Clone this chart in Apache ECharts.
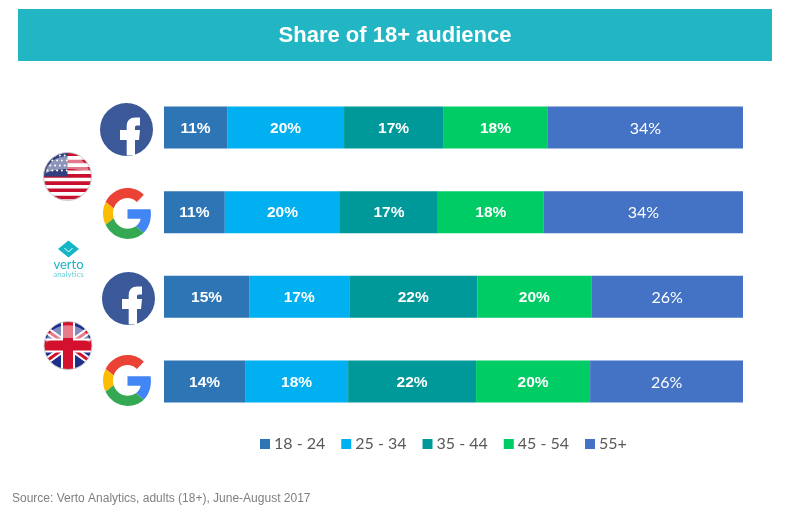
<!DOCTYPE html>
<html>
<head>
<meta charset="utf-8">
<style>html, body { margin: 0; background: #fff; } #main { width: 790px; height: 516px; }</style>
<script src="https://cdn.jsdelivr.net/npm/echarts@6/dist/echarts.min.js"></script>
</head>
<body>
<div id="main"></div>
<script>
var rows = ['US Facebook', 'US Google', 'UK Facebook', 'UK Google'];
var ages = ['18 - 24', '25 - 34', '35 - 44', '45 - 54', '55+'];
var age18 = [10.9, 10.5, 14.7, 14.0];
var age25 = [20.2, 19.9, 17.3, 17.8];
var age35 = [17.1, 16.9, 22.1, 22.1];
var age45 = [18.1, 18.3, 19.7, 19.7];
var age55 = [33.7, 34.4, 26.2, 26.4];
var ageValues = [age18, age25, age35, age45, age55];
var colors = ['#2e75b6', '#00b0f0', '#009999', '#00cc66', '#4472c4'];

// the graphic component has no 'path' type, so logo pieces are registered as shapes
function addShape(name, pathData) {
  echarts.graphic.registerShape(name, echarts.graphic.extendPath(pathData, {}));
}

addShape('fbF', 'M0.2 26L0.2 10.5L-6.5 10.5L-6.5 0.5L0.2 0.5L0.2 -3C0.2 -9 3.5 -12 9 -12L13.5 -12L13.5 -4L10.5 -4' +
  'C9 -4 8.5 -3.2 8.5 -2L8.5 0.5L13.5 0.5L12.5 10.5L8.5 10.5L8.5 25.5Z');
addShape('gRed', 'M24 9.5c3.54 0 6.71 1.22 9.21 3.6l6.85-6.85C35.9 2.38 30.47 0 24 0 14.62 0 6.51 5.38 2.56 13.22l7.98 6.19C12.43 13.72 17.74 9.5 24 9.5z');
addShape('gBlue', 'M46.98 24.55c0-1.57-.15-3.09-.38-4.55H24v9.02h12.94c-.58 2.96-2.26 5.48-4.78 7.18l7.73 6c4.51-4.18 7.09-10.36 7.09-17.65z');
addShape('gYellow', 'M10.53 28.59c-.5-1.45-.78-2.99-.78-4.59s.27-3.14.78-4.59l-7.98-6.19C.92 16.46 0 20.12 0 24c0 3.88.92 7.54 2.56 10.78l7.97-6.19z');
addShape('gGreen', 'M24 48c6.48 0 11.93-2.13 15.89-5.81l-7.73-6c-2.15 1.45-4.92 2.3-8.16 2.3-6.26 0-11.57-4.22-13.47-9.91l-7.98 6.19C6.51 42.62 14.62 48 24 48z');
addShape('gloss', 'M-22 -3C-20 -26 20 -26 22 -3C12 -9 -12 -9 -22 -3Z');

function facebook(x, y) {
  return {
    type: 'group', x: x, y: y, children: [
      {type: 'circle', shape: {cx: 0, cy: 0, r: 26.5}, style: {fill: '#3b5998'}},
      {type: 'fbF', style: {fill: '#fff'}}
    ]
  };
}

function google(x, y) {
  return {
    type: 'group', x: x, y: y, scaleX: 1.02, scaleY: 1.06, children: [
      {type: 'gRed', style: {fill: '#ea4335'}},
      {type: 'gBlue', style: {fill: '#4285f4'}},
      {type: 'gYellow', style: {fill: '#fbbc05'}},
      {type: 'gGreen', style: {fill: '#34a853'}}
    ]
  };
}

// the round badge: square flag, then a white ring over the corners and a gloss on top
function badge(x, y, r, flag) {
  var kids = flag.concat([
    {type: 'circle', shape: {cx: 0, cy: 0, r: r + 7}, style: {fill: 'none', stroke: '#fff', lineWidth: 14}},
    {type: 'circle', shape: {cx: 0, cy: 0, r: r}, style: {fill: 'none', stroke: '#c9c9c9', lineWidth: 1}},
    {type: 'gloss', style: {fill: 'rgba(255,255,255,0.45)'}}
  ]);
  return {type: 'group', x: x, y: y, children: kids};
}

function rect(x, y, w, h, fill) {
  return {type: 'rect', shape: {x: x, y: y, width: w, height: h}, style: {fill: fill}};
}

function usFlag() {
  var out = [rect(-25, -25, 50, 50, '#fff')];
  for (var i = 0; i < 7; i++) {
    out.push(rect(-25, -24 + i * 7.2, 50, 3.6, '#c8102e'));
  }
  out.push(rect(-25, -25, 25, 25, '#2f3f7f'));
  for (var row = 0; row < 4; row++) {
    for (var col = 0; col < 5; col++) {
      out.push({type: 'circle', shape: {cx: -22 + col * 4.8 + (row % 2) * 2, cy: -21 + row * 5, r: 1}, style: {fill: '#fff'}});
    }
  }
  return out;
}

function ukFlag() {
  function line(x1, y1, x2, y2, w, c) {
    return {type: 'line', shape: {x1: x1, y1: y1, x2: x2, y2: y2}, style: {stroke: c, lineWidth: w}};
  }
  return [
    rect(-25, -25, 50, 50, '#1c2f8a'),
    line(-25, -18, 25, 18, 7, '#fff'),
    line(-25, 18, 25, -18, 7, '#fff'),
    line(-25, -18, 25, 18, 3, '#d3112e'),
    line(-25, 18, 25, -18, 3, '#d3112e'),
    rect(-25, -7, 50, 14, '#fff'),
    rect(-7, -25, 14, 50, '#fff'),
    rect(-25, -5, 50, 10, '#d3112e'),
    rect(-5, -25, 10, 50, '#d3112e')
  ];
}

var verto = {
  type: 'group', x: 68.5, y: 249, children: [
    {type: 'polygon', shape: {points: [[0, -8.5], [10.5, 0], [0, 8.5], [-10.5, 0]]}, style: {fill: '#14b5c4'}},
    {type: 'polyline', shape: {points: [[-4, -1], [0, 3], [4, -1]]}, style: {fill: 'none', stroke: '#fff', lineWidth: 1}},
    {type: 'text', x: 0, y: 16, style: {text: 'verto', fill: '#14b5c4', font: '13px Lato', align: 'center', verticalAlign: 'middle'}},
    {type: 'text', x: 0, y: 25, style: {text: 'analytics', fill: '#6fd0da', font: '8px Lato', align: 'center', verticalAlign: 'middle'}}
  ]
};

var series = ages.map(function (name, i) {
  var last = i === ages.length - 1;
  return {
    name: name,
    type: 'bar',
    stack: 'share',
    barWidth: 42,
    data: ageValues[i],
    itemStyle: {color: colors[i]},
    label: {
      show: true,
      position: 'inside',
      offset: [0, 1],
      color: '#fff',
      fontFamily: last ? 'Lato' : 'Liberation Sans',
      fontWeight: last ? 'normal' : 'bold',
      fontSize: last ? 16 : 15.5,
      formatter: function (p) { return Math.round(p.value) + '%'; }
    }
  };
});

echarts.init(document.getElementById('main')).setOption({
  animation: false,
  backgroundColor: '#fff',
  title: [
    {
      text: 'Share of 18+ audience',
      left: 395,
      top: 36,
      padding: 0,
      textAlign: 'center',
      textVerticalAlign: 'middle',
      textStyle: {color: '#fff', fontFamily: 'Liberation Sans', fontWeight: 'bold', fontSize: 22}
    },
    {
      text: 'Source: Verto Analytics, adults (18+), June-August 2017',
      left: 12,
      top: 493,
      padding: 0,
      textStyle: {color: '#7f7f7f', fontFamily: 'Liberation Sans', fontWeight: 'normal', fontSize: 12}
    }
  ],
  legend: {
    left: 260,
    top: 436,
    padding: 0,
    itemWidth: 10,
    itemHeight: 10,
    itemGap: 16,
    icon: 'rect',
    data: ages,
    textStyle: {color: '#595959', fontFamily: 'Lato', fontSize: 16, padding: [0, 0, 0, -1]}
  },
  grid: {left: 164, right: 47, top: 85.3, height: 338.4},
  xAxis: {type: 'value', min: 0, max: 100, show: false},
  yAxis: {type: 'category', inverse: true, data: rows, show: false},
  graphic: [
    {type: 'rect', z: -1, shape: {x: 18, y: 9, width: 754, height: 52}, style: {fill: '#22b5c4'}},
    badge(67.5, 176.5, 24, usFlag()),
    badge(68, 345.5, 24, ukFlag()),
    facebook(126.5, 129.5),
    google(103, 188),
    verto,
    facebook(128.5, 298.5),
    google(103, 355)
  ],
  series: series
});
</script>
</body>
</html>
